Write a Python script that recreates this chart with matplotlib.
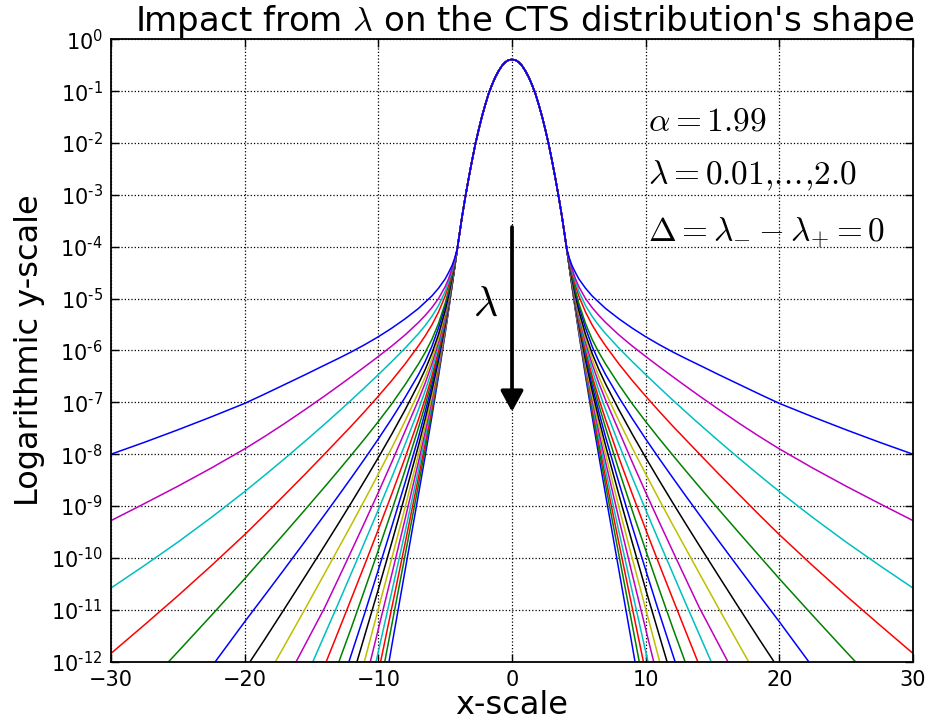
import numpy as np
import matplotlib
matplotlib.use("Agg")
import matplotlib.pyplot as plt
from matplotlib.ticker import LogLocator, NullLocator, FixedLocator, FuncFormatter

plt.rcParams["mathtext.fontset"] = "cm"
plt.rcParams["font.family"] = "DejaVu Sans"

# ---- data -------------------------------------------------------------
# shared central part of every density (|x| <= 3.75), log10 of the pdf
core_x = [0.0, 0.25, 0.5, 0.75, 1.0, 1.25, 1.5, 1.75, 2.0, 2.25,
          2.5, 2.75, 3.0, 3.25, 3.5, 3.75]
core_logy = [-0.39, -0.40, -0.44, -0.51, -0.61, -0.73, -0.88, -1.05, -1.26,
             -1.49, -1.75, -2.03, -2.35, -2.69, -3.05, -3.44]

# tail knots (x >= 4.1); each row below uses the first len(row) knots
tail_x = [4.1, 4.3, 4.5, 4.75, 5.0, 5.5, 6.0, 6.5, 7.0, 8.0, 9.0, 10.0,
          11.0, 12.0, 13.0, 14.0, 15.5, 17.0, 18.5, 20.0, 22.5, 25.0, 27.5, 30.0]

# log10 of the pdf along the tail, heaviest tail (smallest lambda) first
tail_logy = [
    [-4.05, -4.23, -4.37, -4.50, -4.62, -4.80, -4.95, -5.07, -5.19, -5.39, -5.57, -5.735,
     -5.885, -6.025, -6.155, -6.28, -6.47, -6.655, -6.84, -7.02, -7.28, -7.53, -7.77, -8.00],
    [-4.05, -4.25, -4.43, -4.62, -4.77, -5.00, -5.175, -5.325, -5.46, -5.70, -5.915, -6.115,
     -6.31, -6.50, -6.688, -6.873, -7.143, -7.405, -7.657, -7.897, -8.267, -8.617, -8.952, -9.28],
    [-4.05, -4.27, -4.47, -4.68, -4.86, -5.135, -5.345, -5.52, -5.675, -5.955, -6.215, -6.465,
     -6.71, -6.95, -7.185, -7.415, -7.753, -8.083, -8.405, -8.72, -9.22, -9.695, -10.145, -10.58],
    [-4.05, -4.29, -4.51, -4.75, -4.95, -5.26, -5.51, -5.72, -5.91, -6.26, -6.58, -6.88,
     -7.17, -7.45, -7.72, -7.99, -8.39, -8.78, -9.17, -9.55, -10.15, -10.73, -11.29, -11.84],
    [-4.05, -4.32, -4.57, -4.85, -5.09, -5.48, -5.79, -6.04, -6.26, -6.66, -7.03, -7.37,
     -7.695, -8.01, -8.32, -8.625, -9.075, -9.52, -9.96, -10.40, -11.11, -11.81],
    [-4.05, -4.33, -4.59, -4.885, -5.14, -5.565, -5.925, -6.215, -6.465, -6.905, -7.315, -7.705,
     -8.08, -8.445, -8.805, -9.16, -9.685, -10.205, -10.72, -11.23],
    [-4.05, -4.35, -4.63, -4.95, -5.23, -5.69, -6.06, -6.37, -6.645, -7.145, -7.615, -8.065,
     -8.50, -8.925, -9.343, -9.755, -10.365, -10.97, -11.57],
    [-4.05, -4.36, -4.65, -4.98, -5.28, -5.77, -6.17, -6.51, -6.81, -7.36, -7.88, -8.38,
     -8.87, -9.35, -9.82, -10.29, -10.99, -11.68],
    [-4.05, -4.37, -4.67, -5.015, -5.325, -5.84, -6.265, -6.63, -6.955, -7.555, -8.155, -8.735,
     -9.30, -9.855, -10.405, -10.95],
    [-4.05, -4.38, -4.69, -5.05, -5.37, -5.92, -6.38, -6.78, -7.14, -7.81, -8.45, -9.07,
     -9.68, -10.28, -10.88, -11.47],
    [-4.05, -4.39, -4.71, -5.08, -5.42, -6.005, -6.50, -6.935, -7.33, -8.07, -8.77, -9.45,
     -10.115, -10.77, -11.42],
    [-4.05, -4.394, -4.72, -5.10, -5.45, -6.06, -6.585, -7.055, -7.49, -8.31, -9.09, -9.85,
     -10.595, -11.33],
    [-4.05, -4.398, -4.73, -5.12, -5.48, -6.12, -6.68, -7.19, -7.67, -8.55, -9.40, -10.23, -11.05],
    [-4.05, -4.402, -4.74, -5.14, -5.515, -6.185, -6.78, -7.325, -7.835, -8.785, -9.705, -10.605],
    [-4.05, -4.406, -4.75, -5.16, -5.548, -6.248, -6.878, -7.458, -8.003, -9.023, -10.013],
    [-4.05, -4.408, -4.756, -5.174, -5.571, -6.296, -6.956, -7.571, -8.151, -9.251, -10.321],
    [-4.05, -4.41, -4.762, -5.187, -5.595, -6.345, -7.035, -7.685, -8.305, -9.495, -10.655],
    [-4.05, -4.412, -4.768, -5.201, -5.618, -6.393, -7.113, -7.793, -8.448, -9.718, -10.968],
    [-4.05, -4.414, -4.774, -5.214, -5.642, -6.442, -7.192, -7.907, -8.597, -9.947, -11.297],
    [-4.05, -4.416, -4.78, -5.228, -5.665, -6.495, -7.28, -8.04, -8.78, -10.24, -11.70],
]
# x where each tail leaves the plot through 10^-12 (None: it reaches x = 30)
tail_exit_x = [None, None, None, None, 25.69, 22.2, 19.6, 17.7, 16.15, 14.9,
               13.9, 12.95, 12.2, 11.6, 11.05, 10.6, 10.17, 9.83, 9.52, 9.2]
line_colors = ["b", "m", "c", "r", "g", "b", "k", "y", "m", "c",
               "r", "g", "b", "k", "y", "m", "c", "r", "g", "b"]

x_ticks = [-30, -20, -10, 0, 10, 20, 30]
y_floor_log = -12
y_top_log = 0

arrow_x = 0
arrow_top_log = -3.62
arrow_tip_log = -7.18

classic = {"b": (0, 0, 1), "g": (0, 0.5, 0), "r": (1, 0, 0), "c": (0, 0.75, 0.75),
           "m": (0.75, 0, 0.75), "y": (0.75, 0.75, 0), "k": (0, 0, 0)}

# ---- figure -----------------------------------------------------------
fig = plt.figure(figsize=(9.30, 7.26), dpi=100)
ax = fig.add_axes([0.1194, 0.0886, 0.8623, 0.8573])


def full_curve(row, exit_x):
    tx = list(tail_x[:len(row)])
    ty = list(row)
    if exit_x is not None:
        tx.append(exit_x)
        ty.append(y_floor_log)
    right_x = list(core_x) + tx
    right_y = list(core_logy) + ty
    xs = [-v for v in right_x[::-1]] + right_x[1:]
    ys = right_y[::-1] + right_y[1:]
    return np.array(xs), 10.0 ** np.array(ys)


order = list(range(len(tail_logy)))[::-1]  # lightest tail first, heaviest last
for i in order:
    xs, ys = full_curve(tail_logy[i], tail_exit_x[i])
    ax.plot(xs, ys, color=classic[line_colors[i]], lw=1.1,
            solid_joinstyle="round", solid_capstyle="butt")

HYPHEN = "\u2010"


def decade_label(v, pos):
    e = int(round(np.log10(v)))
    if e < 0:
        return "$\\mathdefault{10^{" + HYPHEN + str(-e) + "}}$"
    return "$\\mathdefault{10^{" + str(e) + "}}$"


ax.set_yscale("log")
ax.set_xlim(x_ticks[0], x_ticks[-1])
ax.set_ylim(10.0 ** y_floor_log, 10.0 ** y_top_log)
ax.xaxis.set_major_locator(FixedLocator(x_ticks))
ax.yaxis.set_major_locator(LogLocator(base=10, numticks=20))
ax.yaxis.set_major_formatter(FuncFormatter(decade_label))
ax.yaxis.set_minor_locator(NullLocator())
ax.grid(True, which="major", color="k", linestyle=":", linewidth=0.9)
ax.tick_params(axis="both", which="major", direction="in", length=6, width=1,
               top=True, right=True, labelsize=15, pad=6)
for s in ax.spines.values():
    s.set_linewidth(1.3)

ax.set_title(r"Impact from $\lambda$ on the CTS distribution's shape",
             fontsize=24.5, pad=6, x=0.516)
ax.set_xlabel("x-scale", fontsize=23, labelpad=0)
ax.set_ylabel("Logarithmic y-scale", fontsize=23, labelpad=4)

ax.annotate("", xy=(arrow_x, 10.0 ** arrow_tip_log), xytext=(arrow_x, 10.0 ** arrow_top_log),
            arrowprops=dict(arrowstyle="-|>,head_length=0.42,head_width=0.23", lw=2.7,
                            color="k", mutation_scale=30, shrinkA=0, shrinkB=0))
ax.text(-1.95, 10.0 ** -5.1, r"$\lambda$", fontsize=30, ha="center", va="center")

ax.text(10.2, 10.0 ** -1.58, r"$\alpha=1.99$", fontsize=24, va="center", ha="left")
ax.text(10.2, 10.0 ** -2.64, r"$\lambda=0.01{,}.\!.\!.\!{,}2.0$", fontsize=24,
        va="center", ha="left")
ax.text(10.2, 10.0 ** -3.74, r"$\Delta=\lambda_{-}-\lambda_{+}=0$", fontsize=24,
        va="center", ha="left")

fig.savefig("out.png", dpi=100)
